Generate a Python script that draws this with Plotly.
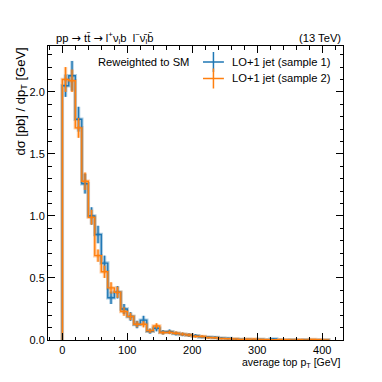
import plotly.graph_objects as go

# ---------------- data ----------------
bin_edges = list(range(0, 420, 10))  # GeV, 41 bins from 0 to 410

sample1_values = [2.05, 2.13, 1.78, 1.26, 1.00, 0.85, 0.62, 0.34, 0.385, 0.25,
                  0.19, 0.125, 0.16, 0.07, 0.095, 0.062, 0.067, 0.052, 0.045, 0.04,
                  0.035, 0.025, 0.022, 0.02, 0.015, 0.012, 0.006, 0.005, 0.004, 0.003,
                  0.004, 0.002, 0.008, 0.002, 0.001, 0.002, 0.001, 0.003, 0.001, 0.001,
                  0.001]
sample1_errors = [0.09, 0.12, 0.10, 0.08, 0.07, 0.07, 0.06, 0.05, 0.05, 0.04,
                  0.035, 0.03, 0.035, 0.02, 0.025, 0.018, 0.018, 0.015, 0.014, 0.013,
                  0.012, 0.01, 0.01, 0.009, 0.008, 0.007, 0.005, 0.004, 0.004, 0.003,
                  0.004, 0.002, 0.006, 0.002, 0.001, 0.002, 0.001, 0.003, 0.001, 0.001,
                  0.001]
sample2_values = [2.10, 2.09, 1.71, 1.28, 0.99, 0.68, 0.55, 0.42, 0.385, 0.23,
                  0.19, 0.127, 0.127, 0.075, 0.113, 0.06, 0.062, 0.055, 0.047, 0.04,
                  0.03, 0.028, 0.02, 0.018, 0.012, 0.01, 0.008, 0.005, 0.006, 0.007,
                  0.005, 0.003, 0.002, 0.002, 0.003, 0.001, 0.002, 0.001, 0.004, 0.003,
                  0.001]
sample2_errors = [0.10, 0.09, 0.08, 0.07, 0.06, 0.05, 0.05, 0.045, 0.045, 0.035,
                  0.03, 0.025, 0.025, 0.018, 0.022, 0.015, 0.015, 0.014, 0.013, 0.012,
                  0.01, 0.01, 0.008, 0.008, 0.006, 0.006, 0.005, 0.004, 0.004, 0.005,
                  0.004, 0.003, 0.002, 0.002, 0.003, 0.001, 0.002, 0.001, 0.004, 0.003,
                  0.001]

series_names = ["LO+1 jet (sample 1)", "LO+1 jet (sample 2)"]
series_colors = ["#1f77b4", "#ff7f0e"]
series_faint = ["rgba(31,119,180,0.35)", "rgba(255,127,14,0.35)"]

x_tickvals = [0, 100, 200, 300, 400]
y_tickvals = [0.0, 0.5, 1.0, 1.5, 2.0]

FONT = "Liberation Sans, Arial, sans-serif"

# page offset from default body margin
OFF = 8
# plot-area geometry in page pixels
PAGE = 382
PL, PR, PT, PB = 47.5, 343.5, 46, 340
W = H = PAGE - OFF
L = PL - OFF
T = PT - OFF
R = PAGE - PR
B = PAGE - PB
PW, PH = W - L - R, H - T - B


def px(xp):  # page pixel -> paper x
    return (xp - OFF - L) / PW


def py(yp):  # page pixel -> paper y
    return (H - B - (yp - OFF)) / PH


fig = go.Figure()

centers = [(a + b) / 2 for a, b in zip(bin_edges[:-1], bin_edges[1:])]
groups = [(sample1_values, sample1_errors, series_colors[0], series_faint[0]),
          (sample2_values, sample2_errors, series_colors[1], series_faint[1])]

for vals, errs, col, faint in groups:
    sx = [bin_edges[0]] + bin_edges[:-1] + [bin_edges[-1], bin_edges[-1]]
    sy = [0] + vals + [vals[-1], 0]
    fig.add_trace(go.Scatter(x=sx, y=sy, mode="lines", line=dict(color=faint, width=3.5, shape="hv"),
                             hoverinfo="skip", showlegend=False))
    fig.add_trace(go.Scatter(x=centers, y=vals, mode="markers",
                             marker=dict(size=1, color="rgba(0,0,0,0)"),
                             error_y=dict(type="data", array=errs, visible=True, color=faint,
                                          thickness=3.5, width=0),
                             hoverinfo="skip", showlegend=False))

for vals, errs, col, faint in groups:
    sx = [bin_edges[0]] + bin_edges[:-1] + [bin_edges[-1], bin_edges[-1]]
    sy = [0] + vals + [vals[-1], 0]
    fig.add_trace(go.Scatter(x=sx, y=sy, mode="lines", line=dict(color=col, width=1.4, shape="hv"),
                             hoverinfo="skip", showlegend=False))
    fig.add_trace(go.Scatter(x=centers, y=vals, mode="markers",
                             marker=dict(size=1, color="rgba(0,0,0,0)"),
                             error_y=dict(type="data", array=errs, visible=True, color=col,
                                          thickness=1.4, width=0),
                             hoverinfo="skip", showlegend=False))

annotations = []
shapes = []

# manual legend
leg_rows = [62, 78.5]
for name, col, yc in zip(series_names, series_colors, leg_rows):
    shapes.append(dict(type="line", xref="paper", yref="paper", x0=px(203), x1=px(224),
                       y0=py(yc), y1=py(yc), line=dict(color=col, width=1.5)))
    shapes.append(dict(type="line", xref="paper", yref="paper", x0=px(213.5), x1=px(213.5),
                       y0=py(yc - 10), y1=py(yc + 10), line=dict(color=col, width=1.5)))
    annotations.append(dict(text=name, xref="paper", yref="paper", x=px(230.5), y=py(yc),
                            xanchor="left", yanchor="middle", showarrow=False,
                            font=dict(family=FONT, size=11.2, color="black")))

annotations.append(dict(text="Reweighted to SM", xref="paper", yref="paper", x=px(96), y=py(62),
                        xanchor="left", yanchor="middle", showarrow=False,
                        font=dict(family=FONT, size=11.2, color="black")))

# titles
ARR = "<span style='font-family:DejaVu Sans'>\u2192</span>"
annotations.append(dict(text="pp " + ARR + " tt\u0304 " + ARR +
                        " l<sup>+</sup>\u03bd<sub>l</sub>b  l<sup>\u2212</sup>\u03bd\u0304<sub>l</sub>b\u0304",
                        xref="paper", yref="paper", x=px(54), y=py(38),
                        xanchor="left", yanchor="middle", showarrow=False,
                        font=dict(family=FONT, size=11.2, color="black")))
annotations.append(dict(text="(13 TeV)", xref="paper", yref="paper", x=1, y=py(38),
                        xanchor="right", yanchor="middle", showarrow=False,
                        font=dict(family=FONT, size=11.2, color="black")))

# axis labels
annotations.append(dict(text="d\u03c3 [pb] / dp<sub>T</sub> [GeV]", xref="paper", yref="paper",
                        x=px(20), y=1, xanchor="center", yanchor="top", textangle=-90,
                        showarrow=False, font=dict(family=FONT, size=13, color="black")))
annotations.append(dict(text="average top p<sub>T</sub> [GeV]", xref="paper", yref="paper",
                        x=1, y=py(363), xanchor="right", yanchor="middle",
                        showarrow=False, font=dict(family=FONT, size=10.5, color="black")))

axis_common = dict(showline=True, linecolor="black", linewidth=1, mirror="allticks",
                   ticks="inside", ticklen=7, tickwidth=1, tickcolor="black",
                   showgrid=False, zeroline=False,
                   tickfont=dict(family=FONT, size=11, color="black"))

fig.update_layout(
    width=W, height=H,
    margin=dict(l=L, r=R, t=T, b=B, pad=0),
    paper_bgcolor="white", plot_bgcolor="white",
    showlegend=False,
    xaxis=dict(range=[-22, 432], tickvals=x_tickvals,
               minor=dict(dtick=20, tick0=0, ticks="inside", ticklen=3.5, tickcolor="black", tickwidth=1),
               **axis_common),
    yaxis=dict(range=[0, 2.37], tickvals=y_tickvals, tickformat=".1f",
               minor=dict(dtick=0.1, tick0=0, ticks="inside", ticklen=3.5, tickcolor="black", tickwidth=1),
               **axis_common),
    annotations=annotations,
    shapes=shapes,
)

fig.write_html("out.html")
